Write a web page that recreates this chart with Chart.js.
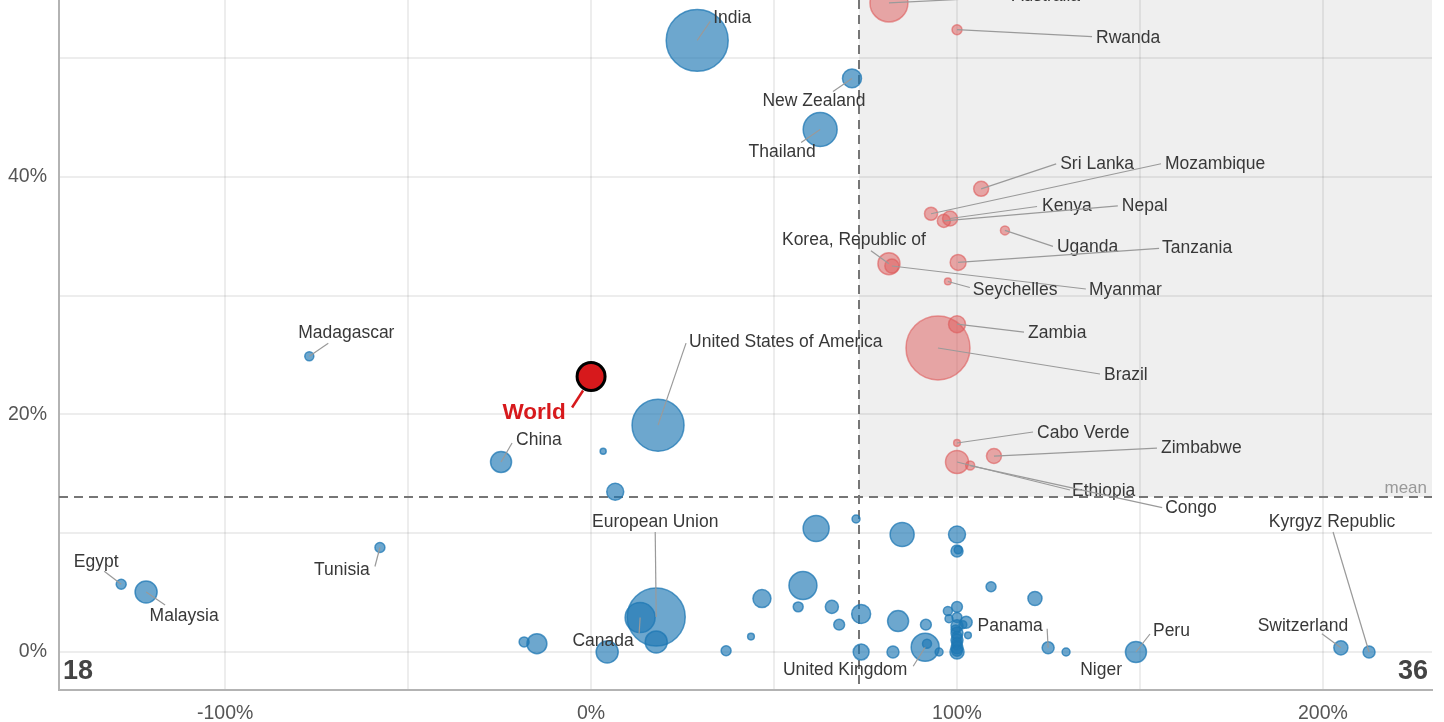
<!DOCTYPE html>
<html>
<head>
<meta charset="utf-8">
<script src="https://cdn.jsdelivr.net/npm/chart.js@4.4.1/dist/chart.umd.min.js"></script>
<style>
  html, body { margin: 0; padding: 0; background: #fff; }
  #chart { display: block; }
</style>
</head>
<body>
<canvas id="chart" width="1444" height="722"></canvas>
<script>
// --- data ---
// x: change (%), y: share (%), weight: bubble size
const names = [
  'India', 'New Zealand', 'Thailand', 'Madagascar', 'United States of America', 'China', '', '',
  'Egypt', 'Malaysia', 'Tunisia', '', '', '', '', '',
  '', '', '', '', '', '', 'United Kingdom', '',
  '', '', '', '', '', 'European Union', 'Canada', '',
  '', '', '', '', '', '', '', '',
  '', '', '', '', '', '', '', '',
  '', '', '', 'Panama', 'Niger', 'Peru', 'Switzerland', 'Kyrgyz Republic',
  '', '', '', '', '', '',
  'Australia', 'Rwanda', 'Sri Lanka', 'Mozambique', 'Kenya', 'Nepal', 'Uganda', 'Tanzania',
  'Korea, Republic of', 'Myanmar', 'Seychelles', 'Zambia', 'Brazil', 'Cabo Verde', 'Zimbabwe', 'Ethiopia',
  'Congo'
];
const xChange = [
  29.0, 71.3, 62.6, -77.0, 18.3, -24.6, 3.3, 6.6,
  -128.4, -121.6, -57.7, 61.5, 72.4, 85.0, 57.9, 46.7,
  56.6, 65.8, 67.8, 73.8, 83.9, 91.5, 91.3, 91.8,
  95.1, 82.5, 73.8, 36.9, 43.7, 17.8, 13.4, 17.8,
  4.4, -14.8, -18.3, 100.0, 100.0, 100.3, 109.3, 121.3,
  100.0, 97.5, 97.8, 102.5, 100.0, 101.6, 100.0, 103.0,
  100.0, 100.0, 100.0, 124.9, 129.8, 148.9, 204.9, 212.6,
  100.0, 100.0, 100.0, 100.0, 99.6, 100.0,
  81.4, 100.0, 106.6, 92.9, 98.1, 96.4, 113.1, 100.3,
  81.4, 82.2, 97.5, 100.0, 94.8, 100.0, 110.1, 100.0,
  103.6
];
const yShare = [
  51.5, 48.3, 44.0, 24.9, 19.1, 16.0, 16.9, 13.5,
  5.7, 5.05, 8.8, 10.4, 11.2, 9.9, 5.6, 4.5,
  3.8, 3.8, 2.3, 3.2, 2.6, 2.3, 0.4, 0.7,
  0.0, 0.0, 0.0, 0.1, 1.3, 2.95, 2.9, 0.85,
  0.0, 0.7, 0.85, 9.9, 8.5, 8.6, 5.5, 4.5,
  3.8, 3.45, 2.8, 2.5, 2.2, 2.3, 1.6, 1.4,
  1.0, 0.35, 0.0, 0.35, 0.0, 0.0, 0.35, 0.0,
  0.6, 1.3, 0.1, 2.9, 1.9, 0.8,
  54.65, 52.4, 39.0, 36.9, 36.5, 36.3, 35.5, 32.8,
  32.7, 32.5, 31.2, 27.6, 25.6, 17.6, 16.5, 16.0,
  15.7
];
const weight = [
  427, 40, 128, 9, 300, 49, 4, 32,
  11, 54, 11, 75, 7, 64, 87, 36,
  11, 19, 13, 40, 49, 13, 87, 9,
  7, 16, 28, 11, 5, 374, 100, 54,
  54, 44, 11, 32, 16, 7, 11, 22,
  13, 9, 7, 16, 16, 7, 16, 5,
  16, 16, 22, 16, 7, 49, 22, 16,
  11, 11, 13, 11, 9, 11,
  160, 11, 25, 19, 25, 19, 9, 28,
  54, 22, 5, 32, 455, 5, 25, 59,
  9
];
const worldPoint = { name: 'World', x: 0, y: 23.2, w: 87 };
const meanX = 73.2;
const meanY = 13.05;
const xRange = [-145.4, 229.8];
const yRange = [-3.2, 54.9];

// --- label placement (pixel offsets from the bubble: text x,y, align, leader end x,y) ---
const labelSpots = {
  'Australia': [123, -7, 'left', 118, -6],
  'Rwanda': [139, 8, 'left', 135, 7],
  'India': [16, -22, 'left', 13, -19],
  'New Zealand': [-38, 23, 'center', -19, 13],
  'Thailand': [-38, 23, 'center', -19, 13],
  'Sri Lanka': [79, -25, 'left', 75, -25],
  'Mozambique': [234, -50, 'left', 230, -50],
  'Kenya': [92, -12, 'left', 87, -12],
  'Nepal': [178, -15, 'left', 174, -15],
  'Uganda': [52, 17, 'left', 48, 16],
  'Tanzania': [204, -14, 'left', 201, -14],
  'Korea, Republic of': [-35, -23, 'center', -18, -13],
  'Myanmar': [197, 24, 'left', 194, 23],
  'Seychelles': [25, 9, 'left', 22, 6],
  'Zambia': [71, 9, 'left', 67, 8],
  'Brazil': [166, 27, 'left', 162, 26],
  'Cabo Verde': [80, -10, 'left', 76, -11],
  'Zimbabwe': [167, -8, 'left', 163, -8],
  'Ethiopia': [115, 29, 'left', 113, 28],
  'Congo': [195, 43, 'left', 192, 42],
  'Madagascar': [37, -23, 'center', 19, -13],
  'United States of America': [31, -83, 'left', 28, -82],
  'China': [15, -22, 'left', 11, -19],
  'Egypt': [-25, -22, 'center', -17, -13],
  'Malaysia': [38, 24, 'center', 19, 13],
  'Tunisia': [-38, 23, 'center', -5, 19],
  'European Union': [-1, -95, 'center', -1, -85],
  'Canada': [-37, 24, 'center', -1, 16],
  'United Kingdom': [-80, 23, 'center', -12, 19],
  'Panama': [-38, -22, 'center', -1, -19],
  'Niger': [35, 18, 'center', null, null],
  'Peru': [17, -21, 'left', 14, -18],
  'Switzerland': [-38, -22, 'center', -19, -14],
  'Kyrgyz Republic': [-37, -130, 'center', -36, -120]
};

const FONT = '"Liberation Sans", Arial, sans-serif';
const radius = w => 1.5 * Math.sqrt(w);

const above = [], below = [];
names.forEach((n, i) => {
  const p = { name: n, x: xChange[i], y: yShare[i], r: radius(weight[i]) };
  if (p.x > meanX && p.y > meanY) above.push(p); else below.push(p);
});
const countLowLeft = below.filter(p => p.x < meanX && p.y < meanY).length;
const countLowRight = below.filter(p => p.x >= meanX && p.y < meanY).length;

const quadrantPlugin = {
  id: 'quadrant',
  beforeDraw(chart) {
    const { ctx, chartArea: a, scales: { x, y } } = chart;
    const mx = x.getPixelForValue(meanX), my = y.getPixelForValue(meanY);
    ctx.save();
    ctx.fillStyle = '#efefef';
    ctx.fillRect(mx, a.top, a.right - mx, my - a.top);
    ctx.restore();
  },
  beforeDatasetsDraw(chart) {
    const { ctx, chartArea: a, scales: { x, y } } = chart;
    const mx = Math.round(x.getPixelForValue(meanX)), my = Math.round(y.getPixelForValue(meanY));
    ctx.save();
    ctx.strokeStyle = '#767676';
    ctx.lineWidth = 2;
    ctx.setLineDash([9, 6]);
    ctx.beginPath();
    ctx.moveTo(mx, a.top); ctx.lineTo(mx, a.bottom);
    ctx.moveTo(a.left, my); ctx.lineTo(a.right, my);
    ctx.stroke();
    ctx.setLineDash([]);
    ctx.fillStyle = '#999';
    ctx.font = '17px ' + FONT;
    ctx.textAlign = 'right';
    ctx.textBaseline = 'alphabetic';
    ctx.fillText('mean', a.right - 5, my - 4);
    ctx.restore();
  },
  afterDatasetsDraw(chart) {
    const { ctx, chartArea: a } = chart;
    ctx.save();
    // leaders + labels
    chart.data.datasets.forEach((ds, di) => {
      const meta = chart.getDatasetMeta(di);
      ds.data.forEach((d, i) => {
        const spot = labelSpots[d.name];
        if (!spot) return;
        const el = meta.data[i];
        const px = el.x, py = el.y;
        if (spot[3] !== null) {
          ctx.strokeStyle = '#9a9a9a';
          ctx.lineWidth = 1.2;
          ctx.beginPath();
          ctx.moveTo(px, py);
          ctx.lineTo(px + spot[3], py + spot[4]);
          ctx.stroke();
        }
        ctx.fillStyle = '#383838';
        ctx.font = '17.5px ' + FONT;
        ctx.textAlign = spot[2];
        ctx.textBaseline = 'middle';
        ctx.fillText(d.name, px + spot[0], py + spot[1]);
      });
    });
    // World label
    const wm = chart.getDatasetMeta(0).data[0];
    ctx.strokeStyle = '#d7191c';
    ctx.lineWidth = 2.5;
    ctx.beginPath();
    ctx.moveTo(wm.x - 8, wm.y + 14);
    ctx.lineTo(wm.x - 19, wm.y + 31);
    ctx.stroke();
    ctx.fillStyle = '#d7191c';
    ctx.font = 'bold 22.5px ' + FONT;
    ctx.textAlign = 'center';
    ctx.textBaseline = 'middle';
    ctx.fillText(worldPoint.name, wm.x - 57, wm.y + 36);
    // quadrant counts
    ctx.fillStyle = '#444';
    ctx.font = 'bold 27px ' + FONT;
    ctx.textBaseline = 'alphabetic';
    ctx.textAlign = 'left';
    ctx.fillText(String(countLowLeft), a.left + 4, a.bottom - 11);
    ctx.textAlign = 'right';
    ctx.fillText(String(countLowRight), a.right - 4, a.bottom - 11);
    ctx.restore();
  }
};

function fitX(s) {
  s.height = 32;
  s.paddingLeft = 0; s.paddingRight = 0; s.paddingTop = 0; s.paddingBottom = 0;
}
function fitY(s) {
  s.width = 59;
  s.paddingLeft = 0; s.paddingRight = 0; s.paddingTop = 0; s.paddingBottom = 0;
}

new Chart(document.getElementById('chart'), {
  type: 'bubble',
  data: {
    datasets: [
      {
        data: [{ name: worldPoint.name, x: worldPoint.x, y: worldPoint.y, r: radius(worldPoint.w) }],
        backgroundColor: '#d7191c',
        borderColor: '#000',
        borderWidth: 3
      },
      {
        data: below,
        backgroundColor: 'rgba(31,120,180,0.65)',
        borderColor: 'rgba(31,120,180,0.75)',
        borderWidth: 1.5
      },
      {
        data: above,
        backgroundColor: 'rgba(222,90,90,0.5)',
        borderColor: 'rgba(222,90,90,0.6)',
        borderWidth: 1.5
      }
    ]
  },
  options: {
    responsive: false,
    devicePixelRatio: 1,
    animation: false,
    events: [],
    layout: { autoPadding: false, padding: { left: 0, right: 12, top: 0, bottom: 0 } },
    plugins: { legend: { display: false }, tooltip: { enabled: false } },
    scales: {
      x: {
        type: 'linear',
        min: xRange[0],
        max: xRange[1],
        afterFit: fitX,
        ticks: {
          stepSize: 50,
          includeBounds: false,
          padding: 12,
          color: '#555',
          font: { family: FONT, size: 19.5 },
          maxRotation: 0,
          autoSkip: false,
          callback: v => (v % 100 === 0 ? v + '%' : '')
        },
        grid: { color: 'rgba(0,0,0,0.07)', lineWidth: 2, drawTicks: false },
        border: { display: true, color: '#b3b3b3', width: 2 }
      },
      y: {
        type: 'linear',
        min: yRange[0],
        max: yRange[1],
        afterFit: fitY,
        ticks: {
          stepSize: 10,
          includeBounds: false,
          padding: 12,
          color: '#555',
          font: { family: FONT, size: 19.5 },
          autoSkip: false,
          callback: v => (v % 20 === 0 ? v + '%' : '')
        },
        grid: { color: 'rgba(0,0,0,0.07)', lineWidth: 2, drawTicks: false },
        border: { display: true, color: '#b3b3b3', width: 2 }
      }
    }
  },
  plugins: [quadrantPlugin]
});
</script>
</body>
</html>
